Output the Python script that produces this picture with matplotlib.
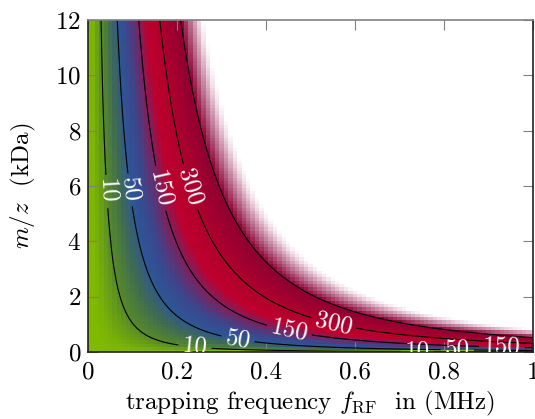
import matplotlib.pyplot as plt
import numpy as np
from matplotlib.colors import LinearSegmentedColormap

plt.rcParams['font.family'] = 'cmr10'
plt.rcParams['mathtext.fontset'] = 'cm'
plt.rcParams['axes.unicode_minus'] = False
plt.rcParams['axes.formatter.use_mathtext'] = True

# sample grid of the surface (frequency in MHz, m/z in kDa)
f_mhz = np.linspace(0, 1, 101)
mz_kda = np.linspace(0, 12, 101)

# surface ~ coeff * m/z * f^2, coefficient
depth_coeff = 960.0

levels = [10, 50, 150, 300, 500]

# colour stops (value -> colour)
stop_values = [0, 3, 10, 30, 55, 90, 150, 200, 300, 500, 600, 720, 780]
stop_colors = ['#80ba00', '#6fa610', '#55882a', '#3e6a55', '#2d5596',
               '#3c468c', '#821e5a', '#be002d', '#af002d', '#8c0032',
               '#b86a8a', '#f0dce6', '#ffffff']

# where the contour labels sit, per level
label_spots = {
    10: [(0.045, 5.8), (0.24, 0.08), (0.74, 0.02)],
    50: [(0.09, 5.85), (0.335, 0.3), (0.83, 0.08)],
    150: [(0.16, 5.9), (0.45, 0.6), (0.93, 0.18)],
    300: [(0.225, 5.95), (0.55, 0.9)],
}

xticks = [0, 0.2, 0.4, 0.6, 0.8, 1]
xticklabels = ['0', '0.2', '0.4', '0.6', '0.8', '1']
yticks = [0, 2, 4, 6, 8, 10, 12]

F, M = np.meshgrid(f_mhz, mz_kda)
Z = depth_coeff * M * F**2

vmax = stop_values[-1]
cmap = LinearSegmentedColormap.from_list(
    'depth', [(v / vmax, c) for v, c in zip(stop_values, stop_colors)], N=4096)

fig = plt.figure(figsize=(5.35, 4.19), dpi=100)
ax = fig.add_axes([88/535, 1 - 352/419, 445/535, 332/419])

ax.pcolormesh(F, M, Z, cmap=cmap, vmin=0, vmax=vmax, shading='nearest')

for lev in levels:
    cs = ax.contour(F, M, Z, levels=[lev], colors='black', linewidths=0.8)
    if lev in label_spots:
        ax.clabel(cs, fmt='%d', colors='white', fontsize=18,
                  manual=label_spots[lev], inline=True, inline_spacing=4)

ax.set_xlim(0, 1)
ax.set_ylim(0, 12)
ax.set_xticks(xticks)
ax.set_xticklabels(xticklabels)
ax.set_yticks(yticks)
ax.tick_params(direction='in', length=7, width=0.8, color='gray',
               top=True, right=True, labelsize=18)
ax.tick_params(axis='x', pad=7)
ax.tick_params(axis='y', pad=5)
for s in ['left', 'bottom', 'right']:
    ax.spines[s].set_color('#222222')
    ax.spines[s].set_linewidth(1.2)
ax.spines['top'].set_color('gray')
ax.spines['top'].set_linewidth(1.2)

ax.set_xlabel(r'trapping frequency $f_{\mathrm{RF}}$  in (MHz)', fontsize=18,
              labelpad=4)
ax.set_ylabel(r'$m/z$  (kDa)', fontsize=18, labelpad=12)

fig.savefig('out.png', dpi=100)
